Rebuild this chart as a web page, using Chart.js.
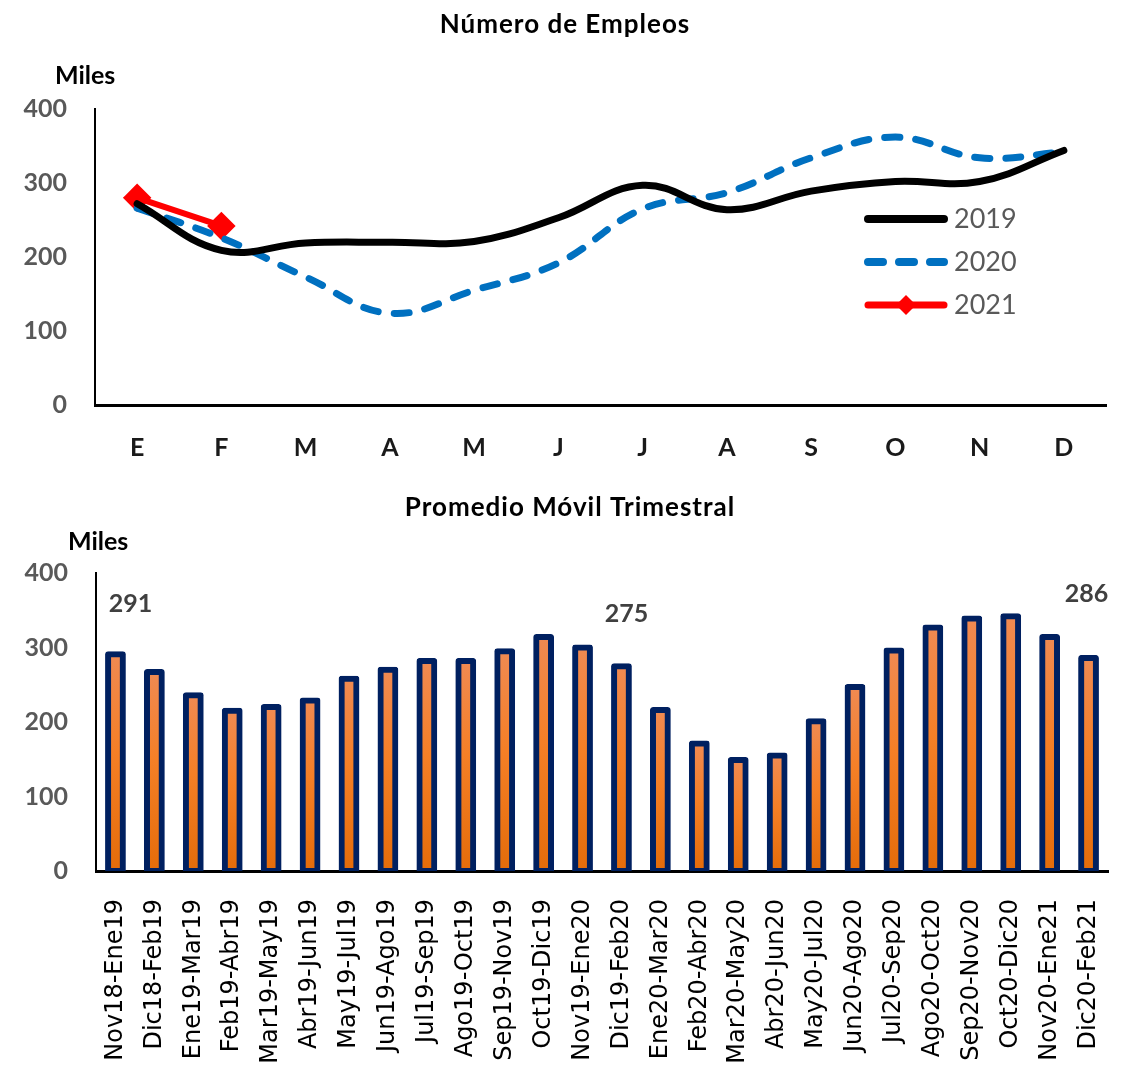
<!DOCTYPE html>
<html lang="es">
<head>
<meta charset="utf-8">
<title>Número de Empleos</title>
<script src="https://cdn.jsdelivr.net/npm/chart.js@4/dist/chart.umd.min.js"></script>
<style>
  html, body { margin: 0; padding: 0; background: #fff; overflow: hidden; }
  #hoja { width: 1122px; height: 1067px; overflow: hidden; position: relative; }
  .caja { position: absolute; left: 0; width: 1122px; }
  #caja1 { top: 0; height: 480px; }
  #caja2 { top: 480px; height: 620px; }
</style>
</head>
<body>
<div id="hoja">
  <div class="caja" id="caja1"><canvas id="graficoEmpleos"></canvas></div>
  <div class="caja" id="caja2"><canvas id="graficoPromedio"></canvas></div>
</div>
<script>
// datos (miles)
var meses = ['E', 'F', 'M', 'A', 'M', 'J', 'J', 'A', 'S', 'O', 'N', 'D'];
var empleos2019 = [272, 209, 219, 220, 221, 253, 297, 264, 289, 302, 302, 344];
var empleos2020 = [266, 226, 173, 124, 155, 192, 265, 287, 334, 362, 334, 342];
var empleos2021 = [280, 242];

var trimestres = ['Nov18-Ene19', 'Dic18-Feb19', 'Ene19-Mar19', 'Feb19-Abr19', 'Mar19-May19',
  'Abr19-Jun19', 'May19-Jul19', 'Jun19-Ago19', 'Jul19-Sep19', 'Ago19-Oct19', 'Sep19-Nov19',
  'Oct19-Dic19', 'Nov19-Ene20', 'Dic19-Feb20', 'Ene20-Mar20', 'Feb20-Abr20', 'Mar20-May20',
  'Abr20-Jun20', 'May20-Jul20', 'Jun20-Ago20', 'Jul20-Sep20', 'Ago20-Oct20', 'Sep20-Nov20',
  'Oct20-Dic20', 'Nov20-Ene21', 'Dic20-Feb21'];
var promedioMovil = [291, 267, 236, 215, 220, 229, 258, 270, 282, 282, 295, 314, 300,
  275, 216, 171, 149, 155, 201, 247, 296, 327, 339, 342, 314, 286];
var barrasConEtiqueta = [0, 13, 25];

var ticksY = [0, 100, 200, 300, 400];

Chart.defaults.font.family = 'Lato, "Open Sans", sans-serif';
Chart.defaults.animation = false;

// titulo y "Miles"
var textosFijos = {
  id: 'textosFijos',
  afterDraw: function (chart, args, opts) {
    var ctx = chart.ctx;
    ctx.save();
    ctx.fillStyle = '#000';
    ctx.textBaseline = 'middle';
    ctx.textAlign = 'center';
    ctx.font = 'bold 26px Lato';
    ctx.letterSpacing = '1px';
    ctx.fillText(opts.titulo, chart.width / 2 + opts.desplazaTitulo, opts.tituloY);
    ctx.letterSpacing = '0px';
    ctx.font = 'bold 25px Lato';
    ctx.textAlign = 'left';
    ctx.fillText('Miles', opts.milesX, opts.milesY);
    ctx.restore();
  }
};

// leyenda dentro del area del grafico
var leyendaInterna = {
  id: 'leyendaInterna',
  afterDatasetsDraw: function (chart, args, opts) {
    var ctx = chart.ctx;
    ctx.save();
    chart.data.datasets.forEach(function (ds, i) {
      var y = opts.y + i * opts.paso;
      ctx.beginPath();
      ctx.lineWidth = ds.borderWidth + 1;
      ctx.strokeStyle = ds.borderColor;
      ctx.lineCap = 'round';
      ctx.setLineDash(ds.borderDash ? [15, 16] : []);
      ctx.moveTo(opts.x, y);
      ctx.lineTo(opts.x + opts.largo, y);
      ctx.stroke();
      ctx.setLineDash([]);
      if (ds.pointRadius > 0) {
        ctx.fillStyle = ds.pointBackgroundColor;
        ctx.strokeStyle = ds.pointBorderColor;
        Chart.helpers.drawPoint(ctx, { pointStyle: ds.pointStyle, radius: ds.pointRadius, rotation: 0, borderWidth: 0 }, opts.x + opts.largo / 2, y);
      }
      ctx.fillStyle = '#595959';
      ctx.font = '27px Lato';
      ctx.textAlign = 'left';
      ctx.textBaseline = 'middle';
      ctx.fillText(ds.label, opts.x + opts.largo + 10, y);
    });
    ctx.restore();
  }
};

// etiquetas de valor sobre algunas barras
var etiquetasBarras = {
  id: 'etiquetasBarras',
  afterDatasetsDraw: function (chart, args, opts) {
    var ctx = chart.ctx;
    var meta = chart.getDatasetMeta(0);
    var datos = chart.data.datasets[0].data;
    ctx.save();
    ctx.font = 'bold 25px Lato';
    ctx.fillStyle = '#404040';
    ctx.textAlign = 'center';
    ctx.textBaseline = 'middle';
    opts.indices.forEach(function (i, k) {
      var barra = meta.data[i];
      ctx.fillText(String(datos[i]), barra.x + opts.corrimientoX[k], barra.y - opts.separacion[k]);
    });
    ctx.restore();
  }
};

function rellenoBarra(contexto) {
  var grafico = contexto.chart;
  var area = grafico.chartArea;
  if (!area || contexto.raw == null) return '#F58025';
  var arriba = grafico.scales.y.getPixelForValue(contexto.raw);
  var g = grafico.ctx.createLinearGradient(0, arriba, 0, area.bottom);
  g.addColorStop(0, '#F08A52');
  g.addColorStop(0.45, '#F57F26');
  g.addColorStop(1, '#E46C0A');
  return g;
}

function ejeY() {
  return {
    min: 0,
    max: 400,
    afterBuildTicks: function (eje) { eje.ticks = ticksY.map(function (v) { return { value: v }; }); },
    afterFit: function (eje) { eje.width = 72; },
    grid: { display: false, drawTicks: false },
    border: { display: true, color: '#000', width: 2 },
    ticks: { padding: 28, color: '#595959', font: { size: 25, weight: 'bold' } }
  };
}

new Chart(document.getElementById('graficoEmpleos'), {
  type: 'line',
  data: {
    labels: meses,
    datasets: [{
      label: '2019',
      data: empleos2019,
      borderColor: '#000000',
      borderWidth: 7,
      tension: 0.4,
      pointRadius: 0,
      borderCapStyle: 'round'
    }, {
      label: '2020',
      data: empleos2020,
      borderColor: '#0070C0',
      borderWidth: 7,
      borderDash: [15, 16],
      borderCapStyle: 'round',
      tension: 0.4,
      pointRadius: 0
    }, {
      label: '2021',
      data: empleos2021,
      borderColor: '#FF0000',
      borderWidth: 6,
      tension: 0,
      pointStyle: 'rectRot',
      pointRadius: 10,
      pointBackgroundColor: '#FF0000',
      pointBorderColor: '#FF0000',
      borderCapStyle: 'round'
    }]
  },
  options: {
    responsive: true,
    maintainAspectRatio: false,
    layout: { padding: { top: 109, left: 23, right: 14, bottom: 0 } },
    plugins: {
      legend: { display: false },
      tooltip: { enabled: false },
      textosFijos: { titulo: 'Número de Empleos', tituloY: 25, desplazaTitulo: 4, milesX: 55, milesY: 76 },
      leyendaInterna: { x: 868, y: 219, paso: 43, largo: 76 }
    },
    scales: {
      x: {
        offset: true,
        afterFit: function (eje) { eje.height = 75; },
        grid: { display: false, drawTicks: false },
        border: { display: true, color: '#000', width: 3 },
        ticks: { padding: 28, color: '#1a1a1a', font: { size: 25, weight: 'bold' } }
      },
      y: ejeY()
    }
  },
  plugins: [textosFijos, leyendaInterna]
});

new Chart(document.getElementById('graficoPromedio'), {
  type: 'bar',
  data: {
    labels: trimestres,
    datasets: [{
      label: 'Promedio Móvil Trimestral',
      data: promedioMovil,
      backgroundColor: rellenoBarra,
      borderColor: '#002060',
      borderWidth: 6,
      borderSkipped: false,
      borderRadius: 3,
      inflateAmount: 3,
      barPercentage: 0.38,
      categoryPercentage: 1,
      clip: { left: 10, top: 10, right: 10, bottom: 0 }
    }]
  },
  options: {
    responsive: true,
    maintainAspectRatio: false,
    layout: { padding: { top: 93, left: 24, right: 14, bottom: 0 } },
    plugins: {
      legend: { display: false },
      tooltip: { enabled: false },
      textosFijos: { titulo: 'Promedio Móvil Trimestral', tituloY: 28, desplazaTitulo: 9, milesX: 68, milesY: 62 },
      etiquetasBarras: { indices: barrasConEtiqueta, separacion: [50, 52, 64], corrimientoX: [15, 5, -2] }
    },
    scales: {
      x: {
        z: 1,
        afterFit: function (eje) {
          eje.height = 620 - 391;
          eje.paddingLeft = 0;
          eje.paddingRight = 0;
        },
        grid: { display: false, drawTicks: false },
        border: { display: true, color: '#000', width: 3 },
        ticks: {
          padding: 28,
          minRotation: 90,
          maxRotation: 90,
          autoSkip: false,
          color: '#000',
          font: { family: '"DejaVu Sans", sans-serif', size: 24, weight: 'normal' }
        }
      },
      y: ejeY()
    }
  },
  plugins: [textosFijos, etiquetasBarras]
});
</script>
</body>
</html>
